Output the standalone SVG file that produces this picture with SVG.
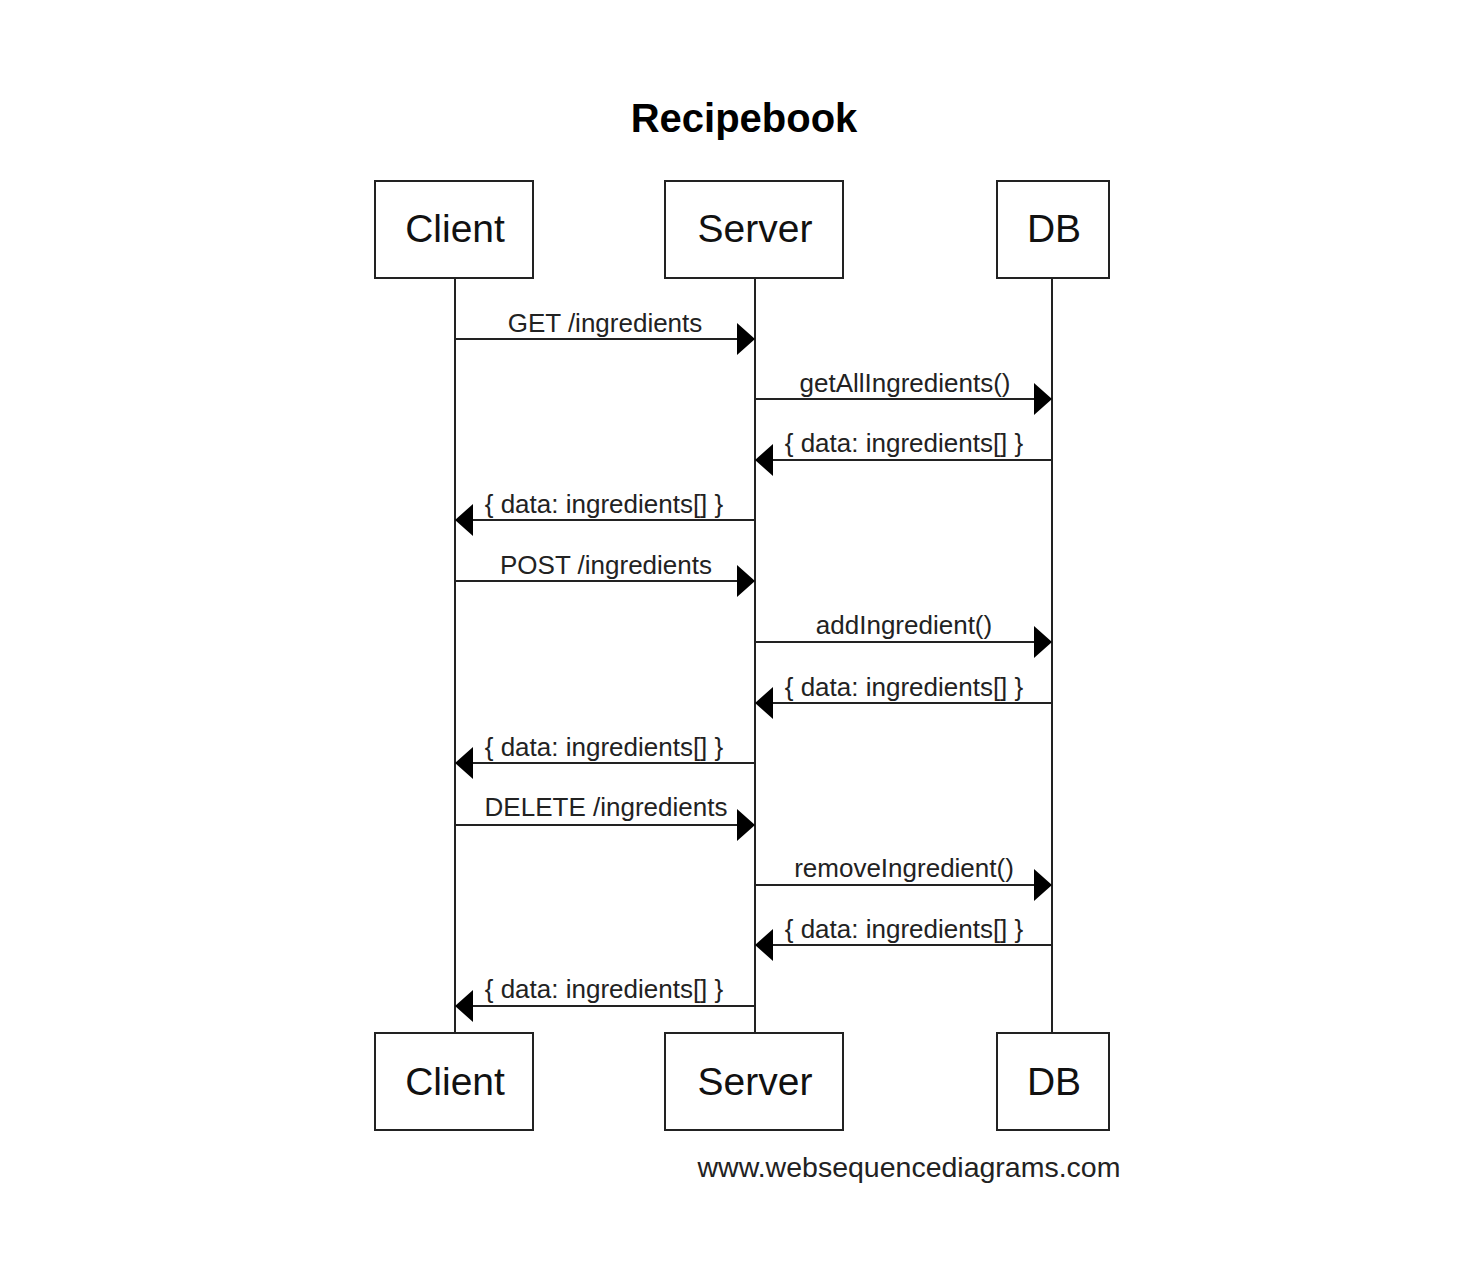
<svg xmlns="http://www.w3.org/2000/svg" width="1476" height="1264" viewBox="0 0 1476 1264">
<style>
.box{fill:#fff;stroke:#222;stroke-width:2}
.life{stroke:#222;stroke-width:2;fill:none}
.msg{stroke:#222;stroke-width:2;fill:none}
.head{fill:#000}
.pt{font-family:"Liberation Sans",Arial,sans-serif;font-size:39px;fill:#111;text-anchor:middle}
.lbl{font-family:"Liberation Sans",Arial,sans-serif;font-size:26px;fill:#222;text-anchor:middle}
.title{font-family:"Liberation Sans",Arial,sans-serif;font-size:40px;font-weight:bold;fill:#000;text-anchor:middle}
.foot{font-family:"Liberation Sans",Arial,sans-serif;font-size:28.5px;fill:#222;text-anchor:middle}
</style>
<rect width="1476" height="1264" fill="#fff"/>
<text class="title" x="744" y="132">Recipebook</text>
<g id="lifelines">
<line class="life" x1="455" y1="278" x2="455" y2="1033"/>
<line class="life" x1="755" y1="278" x2="755" y2="1033"/>
<line class="life" x1="1052" y1="278" x2="1052" y2="1033"/>
</g>
<g id="client">
<rect class="box" x="375" y="181" width="158" height="97"/>
<text class="pt" x="455" y="242">Client</text>
</g>
<g id="server">
<rect class="box" x="665" y="181" width="178" height="97"/>
<text class="pt" x="755" y="242">Server</text>
</g>
<g id="db">
<rect class="box" x="997" y="181" width="112" height="97"/>
<text class="pt" x="1054" y="242">DB</text>
</g>
<g id="client-bottom">
<rect class="box" x="375" y="1033" width="158" height="97"/>
<text class="pt" x="455" y="1095">Client</text>
</g>
<g id="server-bottom">
<rect class="box" x="665" y="1033" width="178" height="97"/>
<text class="pt" x="755" y="1095">Server</text>
</g>
<g id="db-bottom">
<rect class="box" x="997" y="1033" width="112" height="97"/>
<text class="pt" x="1054" y="1095">DB</text>
</g>
<g id="connectors">
<line class="msg" x1="455" y1="339" x2="740" y2="339"/><polygon class="head" points="755,339 737,323 737,355"/>
<text class="lbl" x="605" y="332">GET /ingredients</text>
<line class="msg" x1="755" y1="399" x2="1037" y2="399"/><polygon class="head" points="1052,399 1034,383 1034,415"/>
<text class="lbl" x="905" y="392">getAllIngredients()</text>
<line class="msg" x1="1052" y1="460" x2="770" y2="460"/><polygon class="head" points="755,460 773,444 773,476"/>
<text class="lbl" x="904" y="452">{ data: ingredients[] }</text>
<line class="msg" x1="755" y1="520" x2="470" y2="520"/><polygon class="head" points="455,520 473,504 473,536"/>
<text class="lbl" x="604" y="513">{ data: ingredients[] }</text>
<line class="msg" x1="455" y1="581" x2="740" y2="581"/><polygon class="head" points="755,581 737,565 737,597"/>
<text class="lbl" x="606" y="574">POST /ingredients</text>
<line class="msg" x1="755" y1="642" x2="1037" y2="642"/><polygon class="head" points="1052,642 1034,626 1034,658"/>
<text class="lbl" x="904" y="634">addIngredient()</text>
<line class="msg" x1="1052" y1="703" x2="770" y2="703"/><polygon class="head" points="755,703 773,687 773,719"/>
<text class="lbl" x="904" y="696">{ data: ingredients[] }</text>
<line class="msg" x1="755" y1="763" x2="470" y2="763"/><polygon class="head" points="455,763 473,747 473,779"/>
<text class="lbl" x="604" y="756">{ data: ingredients[] }</text>
<line class="msg" x1="455" y1="825" x2="740" y2="825"/><polygon class="head" points="755,825 737,809 737,841"/>
<text class="lbl" x="606" y="816">DELETE /ingredients</text>
<line class="msg" x1="755" y1="885" x2="1037" y2="885"/><polygon class="head" points="1052,885 1034,869 1034,901"/>
<text class="lbl" x="904" y="877">removeIngredient()</text>
<line class="msg" x1="1052" y1="945" x2="770" y2="945"/><polygon class="head" points="755,945 773,929 773,961"/>
<text class="lbl" x="904" y="938">{ data: ingredients[] }</text>
<line class="msg" x1="755" y1="1006" x2="470" y2="1006"/><polygon class="head" points="455,1006 473,990 473,1022"/>
<text class="lbl" x="604" y="998">{ data: ingredients[] }</text>
</g>
<text class="foot" x="909" y="1177">www.websequencediagrams.com</text>
</svg>
